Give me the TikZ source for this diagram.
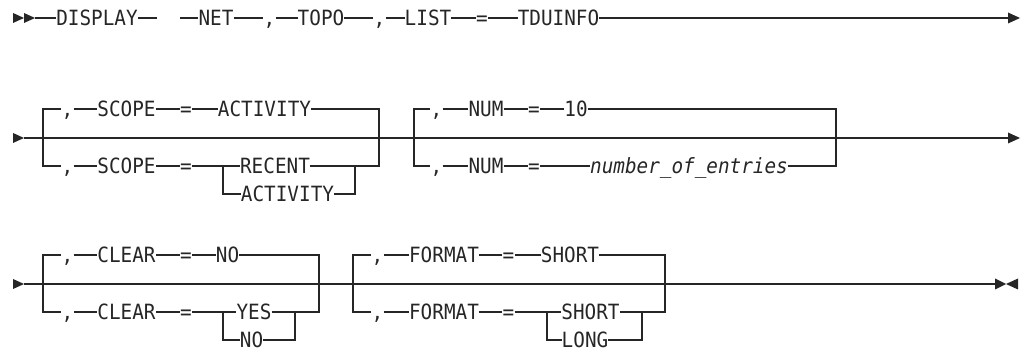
\documentclass[tikz,border=0pt]{standalone}
\usepackage{fontspec}
\setmonofont[FakeStretch=0.92]{DejaVu Sans Mono}
\usetikzlibrary{calc}
\newcommand\railfont{\fontsize{21}{25}\selectfont\ttfamily}

\begin{document}
\begin{tikzpicture}[
  x=1pt, y=-1pt,
  every node/.style={font=\railfont, text=black!85, inner sep=0pt, text height=15.3pt, text depth=0pt},
  var/.style={font=\railfont\itshape},
  rail/.style={draw=black!85, line width=1.3pt},
  tip/.style={fill=black!85}
]
\useasboundingbox (0,0) rectangle (1024,352);

% row 1
\node (disp) at (97,18)    {DISPLAY};
\node (net)  at (216,18)   {NET};
\node (r1c1) at (269.5,18) {,};
\node (topo) at (321,18)   {TOPO};
\node (r1c2) at (379.5,18) {,};
\node (list) at (428,18)   {LIST};
\node (r1eq) at (482,18)   {=};
\node (tdu)  at (558.5,18) {TDUINFO};

\coordinate (r1-in)   at (35,18);
\coordinate (r1-gapL) at (157,18);
\coordinate (r1-gapR) at (180,18);
\coordinate (r1-out)  at (1009,18);

\fill[tip] (24,18) -- ++(-11,-5) -- ++(0,10) -- cycle;
\fill[tip] (35,18) -- ++(-11,-5) -- ++(0,10) -- cycle;
\draw[rail] (r1-in) -- (disp) -- (r1-gapL);
\draw[rail] (r1-gapR) -- (net) -- (r1c1) -- (topo) -- (r1c2) -- (list) -- (r1eq) -- (tdu) -- (r1-out);
\fill[tip] (1020,18) -- ++(-12,-5.5) -- ++(0,11) -- cycle;

% row 2: SCOPE
\node (sc-tc) at (67.5,109)  {,};
\node (sc-tk) at (126.5,109) {SCOPE};
\node (sc-te) at (186,109)   {=};
\node (sc-tv) at (264.5,109) {ACTIVITY};
\node (sc-bc) at (67.5,166)  {,};
\node (sc-bk) at (126.5,166) {SCOPE};
\node (sc-be) at (186,166)   {=};
\node (sc-bv) at (275,166)   {RECENT};
\node (sc-sv) at (287.5,194) {ACTIVITY};

% row 2: NUM
\node (nm-tc) at (436.5,109) {,};
\node (nm-tk) at (486,109)   {NUM};
\node (nm-te) at (534,109)   {=};
\node (nm-tv) at (576,109)   {10};
\node (nm-bc) at (436.5,166) {,};
\node (nm-bk) at (486,166)   {NUM};
\node (nm-be) at (534,166)   {=};
\node[var] (nm-bv) at (689,166) {number\_of\_entries};

\coordinate (r2-in)  at (24,138);
\coordinate (r2-out) at (1009,138);
\coordinate (sc-in)  at (43,138);
\coordinate (sc-out) at (379,138);
\coordinate (sc-sl)  at (223,166);
\coordinate (sc-sr)  at (355,166);
\coordinate (nm-in)  at (414,138);
\coordinate (nm-out) at (836,138);

\fill[tip] (24,138) -- ++(-11,-5) -- ++(0,10) -- cycle;
\draw[rail] (r2-in) -- (r2-out);
\fill[tip] (1020,138) -- ++(-12,-5.5) -- ++(0,11) -- cycle;

\draw[rail] (sc-in) |- (sc-tc) -- (sc-tk) -- (sc-te) -- (sc-tv) -| (sc-out);
\draw[rail] (sc-in) |- (sc-bc) -- (sc-bk) -- (sc-be) -- (sc-bv) -| (sc-out);
\draw[rail] (sc-sl) |- (sc-sv) -| (sc-sr);

\draw[rail] (nm-in) |- (nm-tc) -- (nm-tk) -- (nm-te) -- (nm-tv) -| (nm-out);
\draw[rail] (nm-in) |- (nm-bc) -- (nm-bk) -- (nm-be) -- (nm-bv) -| (nm-out);

% row 3: CLEAR
\node (cl-tc) at (67.5,255)  {,};
\node (cl-tk) at (126.5,255) {CLEAR};
\node (cl-te) at (186,255)   {=};
\node (cl-tv) at (227.5,255) {NO};
\node (cl-bc) at (67.5,312)  {,};
\node (cl-bk) at (126.5,312) {CLEAR};
\node (cl-be) at (186,312)   {=};
\node (cl-bv) at (254,312)   {YES};
\node (cl-sv) at (251.5,340) {NO};

% row 3: FORMAT
\node (fm-tc) at (377.5,255) {,};
\node (fm-tk) at (444,255)   {FORMAT};
\node (fm-te) at (508.5,255) {=};
\node (fm-tv) at (570,255)   {SHORT};
\node (fm-bc) at (377.5,312) {,};
\node (fm-bk) at (444,312)   {FORMAT};
\node (fm-be) at (508.5,312) {=};
\node (fm-bv) at (590.5,312) {SHORT};
\node (fm-sv) at (585,340)   {LONG};

\coordinate (r3-in)  at (24,284);
\coordinate (r3-out) at (996,284);
\coordinate (cl-in)  at (43,284);
\coordinate (cl-out) at (319,284);
\coordinate (cl-sl)  at (223,312);
\coordinate (cl-sr)  at (295,312);
\coordinate (fm-in)  at (353,284);
\coordinate (fm-out) at (665,284);
\coordinate (fm-sl)  at (547,312);
\coordinate (fm-sr)  at (642,312);

\fill[tip] (24,284) -- ++(-11,-5) -- ++(0,10) -- cycle;
\draw[rail] (r3-in) -- (r3-out);
\fill[tip] (1006,284) -- ++(-11,-5.5) -- ++(0,11) -- cycle;
\fill[tip] (1006,284) -- ++(12,-5.5) -- ++(0,11) -- cycle;

\draw[rail] (cl-in) |- (cl-tc) -- (cl-tk) -- (cl-te) -- (cl-tv) -| (cl-out);
\draw[rail] (cl-in) |- (cl-bc) -- (cl-bk) -- (cl-be) -- (cl-bv) -| (cl-out);
\draw[rail] (cl-sl) |- (cl-sv) -| (cl-sr);

\draw[rail] (fm-in) |- (fm-tc) -- (fm-tk) -- (fm-te) -- (fm-tv) -| (fm-out);
\draw[rail] (fm-in) |- (fm-bc) -- (fm-bk) -- (fm-be) -- (fm-bv) -| (fm-out);
\draw[rail] (fm-sl) |- (fm-sv) -| (fm-sr);
\end{tikzpicture}
\end{document}
